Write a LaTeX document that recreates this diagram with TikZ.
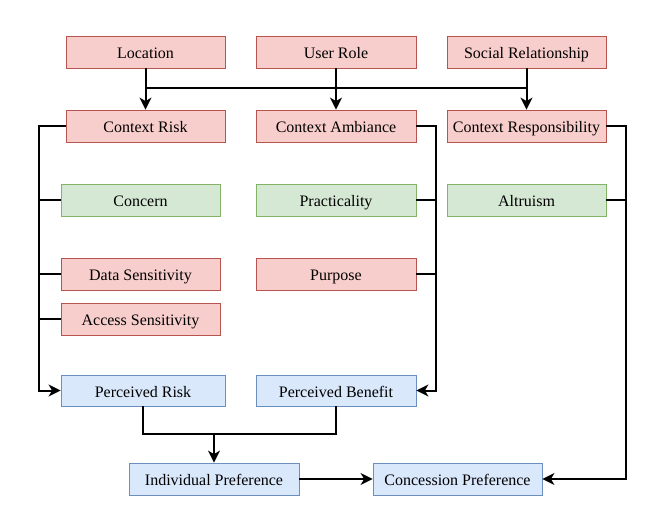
\documentclass[tikz,border=0pt]{standalone}
\usepackage{fontspec}
\setmainfont{Liberation Serif}
\usetikzlibrary{arrows.meta}
\definecolor{redf}{HTML}{F8CECC}
\definecolor{redd}{HTML}{B85450}
\definecolor{greenf}{HTML}{D5E8D4}
\definecolor{greend}{HTML}{82B366}
\definecolor{bluef}{HTML}{DAE8FC}
\definecolor{blued}{HTML}{6C8EBF}
\begin{document}
\begin{tikzpicture}[x=1pt,y=-1pt,
  box/.style={rectangle, draw, line width=0.8pt, minimum height=32pt, minimum width=159pt, inner sep=0pt, text height=13pt, text depth=0pt, font=\fontsize{16}{18}\selectfont},
  rbox/.style={box, fill=redf, draw=redd},
  gbox/.style={box, fill=greenf, draw=greend},
  bbox/.style={box, fill=bluef, draw=blued},
  conn/.style={line width=2pt, black},
  arr/.style={conn, -{Stealth[length=12pt,width=12pt,inset=3.5pt]}}]
\useasboundingbox (0,0) rectangle (663,513);
\fill[white] (0,0) rectangle (663,513);
% top row
\node[rbox] (loc) at (145.5,52) {Location};
\node[rbox, minimum width=160pt] (role) at (336,52) {User Role};
\node[rbox] (soc) at (526.5,52) {Social Relationship};
% context row
\node[rbox] (crisk) at (145.5,126) {Context Risk};
\node[rbox, minimum width=160pt] (camb) at (336,126) {Context Ambiance};
\node[rbox] (cresp) at (526.5,126) {Context Responsibility};
% factors
\node[gbox] (concern) at (140.5,200) {Concern};
\node[gbox, minimum width=160pt] (pract) at (336,200) {Practicality};
\node[gbox] (altr) at (526.5,200) {Altruism};
\node[rbox] (data) at (140.5,274) {Data Sensitivity};
\node[rbox, minimum width=160pt] (purp) at (336,274) {Purpose};
\node[rbox] (access) at (140.5,319) {Access Sensitivity};
% perceived
\node[bbox, minimum width=164pt, minimum height=31pt] (prisk) at (143,390.5) {Perceived Risk};
\node[bbox, minimum width=160pt, minimum height=31pt] (pben) at (336,390.5) {Perceived Benefit};
% preferences
\node[bbox, minimum width=170pt] (ind) at (214,479) {Individual Preference};
\node[bbox, minimum width=169pt] (conc) at (457.5,479) {Concession Preference};
% bus coordinates
\coordinate (lbus) at (39,0);
\coordinate (mbus) at (436,0);
\coordinate (rbus) at (626,0);
\coordinate (mrg) at (0,434);
% top connectors
\draw[arr] (loc) -- (crisk);
\draw[arr] (role) -- (camb);
\draw[arr] (soc) -- (cresp);
\path (loc.south) -- (crisk.north) coordinate[pos=0.476] (b1);
\path (soc.south) -- (cresp.north) coordinate[pos=0.476] (b3);
\draw[conn] (b1) -- (b3);
% left bus
\draw[arr] (crisk.west) -- (crisk.west -| lbus) |- (prisk.west);
\draw[conn] (concern.west) -- (concern.west -| lbus);
\draw[conn] (data.west) -- (data.west -| lbus);
\draw[conn] (access.west) -- (access.west -| lbus);
% middle bus
\draw[arr] (camb.east) -- (camb.east -| mbus) |- (pben.east);
\draw[conn] (pract.east) -- (pract.east -| mbus);
\draw[conn] (purp.east) -- (purp.east -| mbus);
% right bus
\draw[arr] (cresp.east) -- (cresp.east -| rbus) |- (conc.east);
\draw[conn] (altr.east) -- (altr.east -| rbus);
% bottom merge
\draw[conn] (prisk.south) -- (prisk.south |- mrg) -| (pben.south);
\draw[arr] (ind.north |- mrg) -- (ind.north);
\draw[arr] (ind) -- (conc);
\end{tikzpicture}
\end{document}
